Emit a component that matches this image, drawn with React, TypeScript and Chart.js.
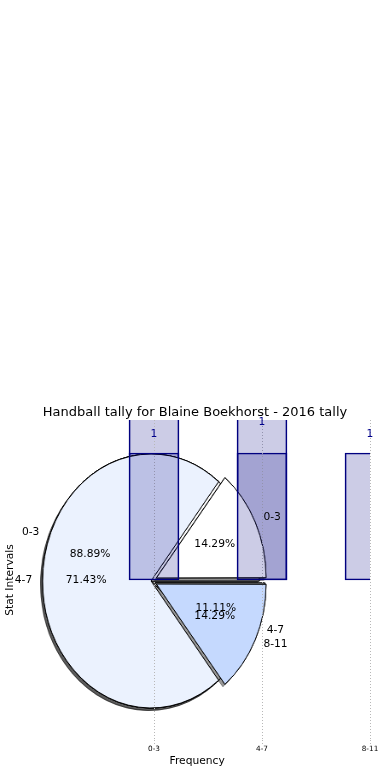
import React, { useEffect, useRef } from 'react';
import { Chart, registerables } from 'chart.js';

Chart.register(...registerables);

// ---- data ----
const categories = ['0-3', '4-7', '8-11'];
const tallyA = [8, 1, 0];
const tallyB = [1, 5, 1];
const barValueLabels = ['1', '1', '1'];
const barValueLabelLevels = [1.15, 1.24, 1.15];
const pieALabels = ['0-3', '4-7'];
const pieAValues = [8, 1];
const pieBLabels = ['0-3', '4-7', '8-11'];
const pieBValues = [1, 5, 1];
const titleText = 'Handball tally for Blaine Boekhorst - 2016 tally';
const xTitle = 'Frequency';
const yTitle = 'Stat Intervals';

// ---- styles ----
const pieAColors = ['#ffffff', '#ffffff'];
const pieBColors = ['#ffffff', '#ebf2fe', '#c5d9fe'];
const pieAExplode = [0, 20];
const pieBExplode = [28, 0, 28];

const W = 390;
const H = 780;
const FONT = '"DejaVu Sans", Verdana, sans-serif';
const PIE_SIZE = 300;
const PIE_R = 127;
const PIE_SX = 108 / 127;
const PIE_CX = 151;
const PIE_CY = 580.5;
const PIE_LEFT = PIE_CX - (PIE_SIZE * PIE_SX) / 2;
const PIE_TOP = PIE_CY - PIE_SIZE / 2;
const TITLE_LH = 1.1;
const TITLE_SIZE = 13;
const AREA_TOP = 420;

const rev = <T,>(a: T[]) => a.slice().reverse();

function barOptions(decor: boolean): any {
  return {
    responsive: false,
    animation: false,
    layout: {
      padding: { top: decor ? AREA_TOP - TITLE_SIZE * TITLE_LH : AREA_TOP, right: 0, left: 0, bottom: 0 },
    },
    plugins: {
      legend: { display: false },
      tooltip: { enabled: false },
      title: {
        display: decor,
        text: titleText,
        color: '#000',
        font: { family: FONT, size: TITLE_SIZE, weight: 'normal', lineHeight: TITLE_LH },
        padding: 0,
      },
    },
    scales: {
      x: {
        type: 'linear',
        min: -1.2,
        max: 2,
        offset: false,
        afterBuildTicks: (s: any) => {
          s.ticks = categories.map((_, i) => ({ value: i }));
        },
        afterFit: (s: any) => {
          s.height = 40;
        },
        ticks: {
          display: decor,
          callback: (v: any) => categories[v] ?? '',
          font: { family: FONT, size: 7.3 },
          color: '#000',
          padding: 1,
          maxRotation: 0,
          autoSkip: false,
        },
        grid: {
          display: decor,
          offset: false,
          color: '#b8b8b8',
          lineWidth: 1,
          tickLength: 4,
          tickColor: '#b8b8b8',
          tickBorderDash: [1, 2],
        },
        border: { display: false, dash: [1, 2] },
        title: {
          display: decor,
          text: xTitle,
          color: '#000',
          font: { family: FONT, size: 10.7 },
          padding: { top: 0, bottom: 12.5 },
        },
      },
      y: {
        type: 'linear',
        position: 'left',
        min: -1.26,
        max: 1.26,
        afterFit: (s: any) => {
          s.width = 24.4;
        },
        ticks: { display: false },
        grid: { display: false },
        border: { display: false },
        title: {
          display: decor,
          text: yTitle,
          color: '#000',
          font: { family: FONT, size: 10.7 },
          padding: { top: 4, bottom: 0 },
        },
      },
      yRight: {
        type: 'linear',
        position: 'right',
        min: -1.26,
        max: 1.26,
        afterFit: (s: any) => {
          s.width = 20;
        },
        ticks: { display: false },
        grid: { display: false },
        border: { display: false },
      },
    },
  };
}

const shadowPlugin = {
  id: 'pieShadow',
  beforeDatasetsDraw(chart: any) {
    const ctx = chart.ctx;
    ctx.save();
    ctx.shadowColor = 'rgba(0,0,0,0.4)';
    ctx.shadowOffsetX = -2.5;
    ctx.shadowOffsetY = 2.5;
    ctx.shadowBlur = 0;
    chart.getDatasetMeta(0).data.forEach((a: any) => a.draw(ctx));
    ctx.restore();
  },
};

const barLabelPlugin = {
  id: 'barValueLabels',
  afterDatasetsDraw(chart: any) {
    const ctx = chart.ctx;
    const xs = chart.scales.x;
    const ys = chart.scales.y;
    ctx.save();
    ctx.fillStyle = '#00008b';
    ctx.font = `10.7px ${FONT}`;
    ctx.textAlign = 'center';
    ctx.textBaseline = 'middle';
    barValueLabels.forEach((t, i) => {
      ctx.fillText(t, xs.getPixelForValue(i), ys.getPixelForValue(barValueLabelLevels[i]));
    });
    ctx.restore();
  },
};

function pieConfig(labels: string[], values: number[], colors: string[], explode: number[]): any {
  return {
    type: 'pie',
    data: {
      labels: rev(labels),
      datasets: [
        {
          data: rev(values),
          backgroundColor: rev(colors),
          borderColor: '#000',
          borderWidth: 1,
          offset: rev(explode),
          radius: PIE_R,
          rotation: 90,
        },
      ],
    },
    options: {
      responsive: false,
      animation: false,
      radius: PIE_R,
      rotation: 90,
      layout: { padding: 0 },
      plugins: { legend: { display: false }, tooltip: { enabled: false } },
    },
    plugins: [shadowPlugin],
  };
}

function drawPieLabels(chart: any, labels: string[], values: number[], ctx: CanvasRenderingContext2D) {
  const total = values.reduce((a, b) => a + b, 0);
  const meta = chart.getDatasetMeta(0);
  const toX = (v: number) => PIE_LEFT + v * PIE_SX;
  const toY = (v: number) => PIE_TOP + v;
  ctx.save();
  ctx.fillStyle = '#000';
  ctx.font = `10.7px ${FONT}`;
  ctx.textBaseline = 'middle';
  meta.data.forEach((arc: any, j: number) => {
    const i = labels.length - 1 - j;
    const p = arc.getProps(['x', 'y', 'startAngle', 'endAngle', 'outerRadius'], true);
    const mid = (p.startAngle + p.endAngle) / 2;
    const off = (arc.options.offset || 0) / 4;
    const bx = p.x + Math.cos(mid) * off;
    const by = p.y + Math.sin(mid) * off;
    const lx = bx + Math.cos(mid) * p.outerRadius * 1.1;
    const ly = by + Math.sin(mid) * p.outerRadius * 1.1;
    ctx.textAlign = Math.cos(mid) >= 0 ? 'left' : 'right';
    ctx.fillText(labels[i], toX(lx), toY(ly));
    const px = bx + Math.cos(mid) * p.outerRadius * 0.6;
    const py = by + Math.sin(mid) * p.outerRadius * 0.6;
    ctx.textAlign = 'center';
    ctx.fillText(((values[i] / total) * 100).toFixed(2) + '%', toX(px), toY(py));
  });
  ctx.restore();
}

export default function App() {
  const barARef = useRef<HTMLCanvasElement>(null);
  const pieARef = useRef<HTMLCanvasElement>(null);
  const pieBRef = useRef<HTMLCanvasElement>(null);
  const barBRef = useRef<HTMLCanvasElement>(null);
  const overlayRef = useRef<HTMLCanvasElement>(null);

  useEffect(() => {
    const charts: Chart[] = [];
    const barDataset = (vals: number[]) => ({
      data: vals.map((v, i) => ({ x: i, y: v })),
      backgroundColor: 'rgba(0,0,128,0.2)',
      borderColor: '#000080',
      borderWidth: 1,
      borderSkipped: false,
      barThickness: 50,
      clip: 0,
    });
    charts.push(
      new Chart(barARef.current!, {
        type: 'bar',
        data: { datasets: [barDataset(tallyA) as any] },
        options: barOptions(false),
      })
    );
    const pieA = new Chart(pieARef.current!, pieConfig(pieALabels, pieAValues, pieAColors, pieAExplode));
    const pieB = new Chart(pieBRef.current!, pieConfig(pieBLabels, pieBValues, pieBColors, pieBExplode));
    charts.push(pieA, pieB);
    charts.push(
      new Chart(barBRef.current!, {
        type: 'bar',
        data: { datasets: [barDataset(tallyB) as any] },
        options: barOptions(true),
        plugins: [barLabelPlugin],
      })
    );
    const octx = overlayRef.current!.getContext('2d')!;
    octx.clearRect(0, 0, W, H);
    drawPieLabels(pieA, pieALabels, pieAValues, octx);
    drawPieLabels(pieB, pieBLabels, pieBValues, octx);
    return () => {
      charts.forEach((c) => c.destroy());
    };
  }, []);

  const full: React.CSSProperties = { position: 'absolute', left: 0, top: 0, width: W, height: H };
  return (
    <div style={{ position: 'absolute', left: 0, top: 0, width: W, height: H, background: '#fff' }}>
      <canvas ref={barARef} width={W} height={H} style={full} />
      <canvas
        ref={pieARef}
        width={PIE_SIZE}
        height={PIE_SIZE}
        style={{ position: 'absolute', left: PIE_LEFT, top: PIE_TOP, width: PIE_SIZE * PIE_SX, height: PIE_SIZE }}
      />
      <canvas
        ref={pieBRef}
        width={PIE_SIZE}
        height={PIE_SIZE}
        style={{ position: 'absolute', left: PIE_LEFT, top: PIE_TOP, width: PIE_SIZE * PIE_SX, height: PIE_SIZE }}
      />
      <canvas ref={barBRef} width={W} height={H} style={full} />
      <canvas ref={overlayRef} width={W} height={H} style={full} />
    </div>
  );
}
